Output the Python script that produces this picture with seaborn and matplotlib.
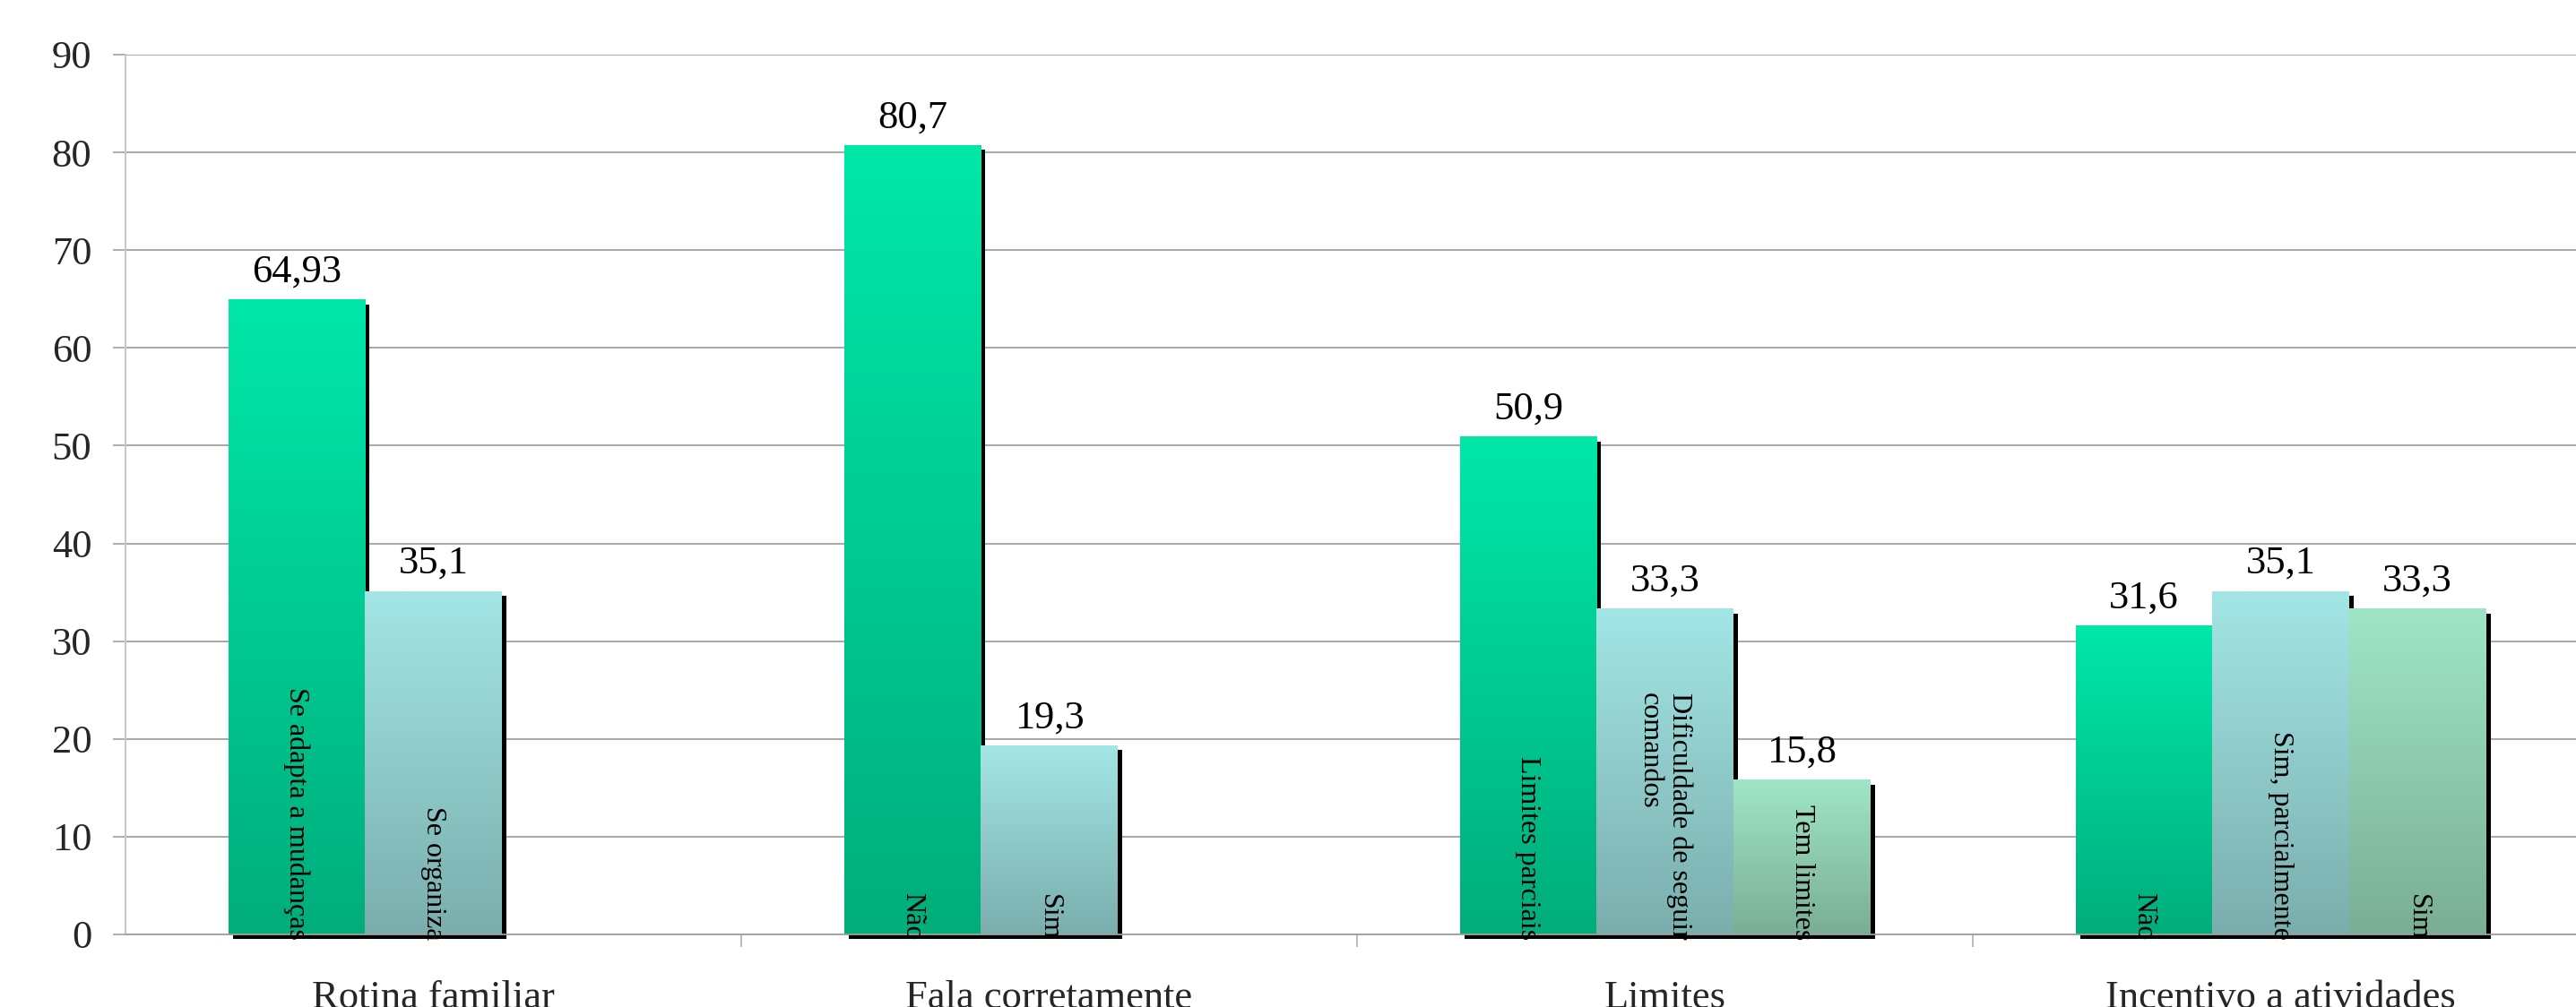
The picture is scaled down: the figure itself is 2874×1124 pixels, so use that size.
import numpy as np
import pandas as pd
import matplotlib
matplotlib.use("Agg")
import matplotlib.pyplot as plt
import seaborn as sns
from matplotlib.transforms import ScaledTranslation
from matplotlib.patches import Rectangle
from matplotlib.colors import LinearSegmentedColormap

# ---------------- data ----------------
categories = ["Rotina familiar", "Fala corretamente", "Limites", "Incentivo a atividades"]
slots = ["s1", "s2", "s3"]
values_s1 = [64.93, 80.7, 50.9, 31.6]
values_s2 = [35.1, 19.3, 33.3, 35.1]
values_s3 = [np.nan, np.nan, 15.8, 33.3]
labels_s1 = ["Se adapta a mudanças", "Não", "Limites parciais", "Não"]
labels_s2 = ["Se organiza", "Sim", "Dificuldade de seguir\ncomandos", "Sim, parcialmente"]
labels_s3 = ["", "", "Tem limites", "Sim"]
y_ticks = [0, 10, 20, 30, 40, 50, 60, 70, 80, 90]

# ---------------- style ----------------
sns.set_theme(style="white")
plt.rcParams["font.family"] = ["Liberation Serif", "DejaVu Serif"]

DPI = 100
fig = plt.figure(figsize=(28.74, 11.24), dpi=DPI)
ax = fig.add_axes([140 / 2874, 81 / 1124, 1 - 140 / 2874, (1043 - 61) / 1124])

rows = []
for vals, s in zip([values_s1, values_s2, values_s3], slots):
    for c, v in zip(categories, vals):
        rows.append({"cat": c, "slot": s, "value": v})
df = pd.DataFrame(rows)
df_plot = df.dropna()

sns.barplot(data=df_plot, x="cat", y="value", hue="slot", hue_order=slots,
            order=categories, width=2 / 3, gap=0, dodge=True, saturation=1,
            errorbar=None, legend=False, ax=ax)

grad = {
    "s1": ("#00AD7B", "#00E8A9"),
    "s2": ("#7AAEAD", "#A3E6E5"),
    "s3": ("#7AAE94", "#A0E5C7"),
}
label_map = {"s1": labels_s1, "s2": labels_s2, "s3": labels_s3}
value_map = {"s1": values_s1, "s2": values_s2, "s3": values_s3}

shadow_tr = ax.transData + ScaledTranslation(5 / DPI, -5 / DPI, fig.dpi_scale_trans)
g = np.linspace(0, 1, 256).reshape(-1, 1)

for cont, s in zip(ax.containers, slots):
    cmap = LinearSegmentedColormap.from_list(s, list(grad[s]))
    for p in cont.patches:
        x0, y0 = p.get_x(), p.get_y()
        w, h = p.get_width(), p.get_height()
        if not np.isfinite(h) or h == 0:
            continue
        xc = x0 + w / 2
        ci = int(round(xc))
        # shadow
        sh = Rectangle((x0, y0), w, h, transform=shadow_tr, facecolor="black",
                       edgecolor="none", zorder=1.5, clip_on=False)
        ax.add_patch(sh)
        # gradient fill
        ax.imshow(g, extent=[x0, x0 + w, y0, y0 + h], origin="lower", aspect="auto",
                  cmap=cmap, zorder=2, interpolation="bilinear")
        p.set_facecolor("none")
        p.set_edgecolor("none")
        # value label
        txt = f"{value_map[s][ci]:g}".replace(".", ",")
        ax.annotate(txt, xy=(xc, y0 + h), xytext=(0, 20 * 72 / DPI),
                    textcoords="offset points", ha="center", va="baseline",
                    fontsize=32, color="black", zorder=5)
        # in-bar label
        ax.annotate(label_map[s][ci], xy=(xc, 0), xytext=(0, -6 * 72 / DPI),
                    textcoords="offset points", ha="center", va="bottom",
                    rotation=270, multialignment="left", fontsize=23,
                    color="black", zorder=5, annotation_clip=False)

ax.set_xlim(-0.5, -0.5 + (2874 - 140) / 687)
ax.set_ylim(0, 90)
ax.set_aspect("auto")

# grid & axes
ax.set_yticks(y_ticks)
ax.set_yticklabels([str(t) for t in y_ticks])
ax.yaxis.grid(True, color="#a0a0a0", linewidth=1.3)
ax.xaxis.grid(False)
ax.set_axisbelow(True)

ax.set_xticks([0.5, 1.5, 2.5])
ax.set_xticklabels(["", "", ""])
ax.set_xticks(range(len(categories)), minor=True)
ax.set_xticklabels(categories, minor=True)
ax.tick_params(axis="x", which="major", length=14 * 72 / DPI, width=1.2,
               color="#b0b0b0", direction="out", bottom=True)
ax.tick_params(axis="x", which="minor", length=0, pad=37, labelsize=32)
ax.tick_params(axis="y", which="major", length=14 * 72 / DPI, width=1.2,
               color="#a0a0a0", direction="out", left=True, pad=17, labelsize=32)

for side in ["top", "right"]:
    ax.spines[side].set_visible(False)
ax.spines["left"].set_color("#c8c8c8")
ax.spines["left"].set_linewidth(1.5)
ax.spines["bottom"].set_color("#a0a0a0")
ax.spines["bottom"].set_linewidth(1.3)
ax.set_xlabel("")
ax.set_ylabel("")

fig.savefig("out.png", dpi=DPI, facecolor="white")
